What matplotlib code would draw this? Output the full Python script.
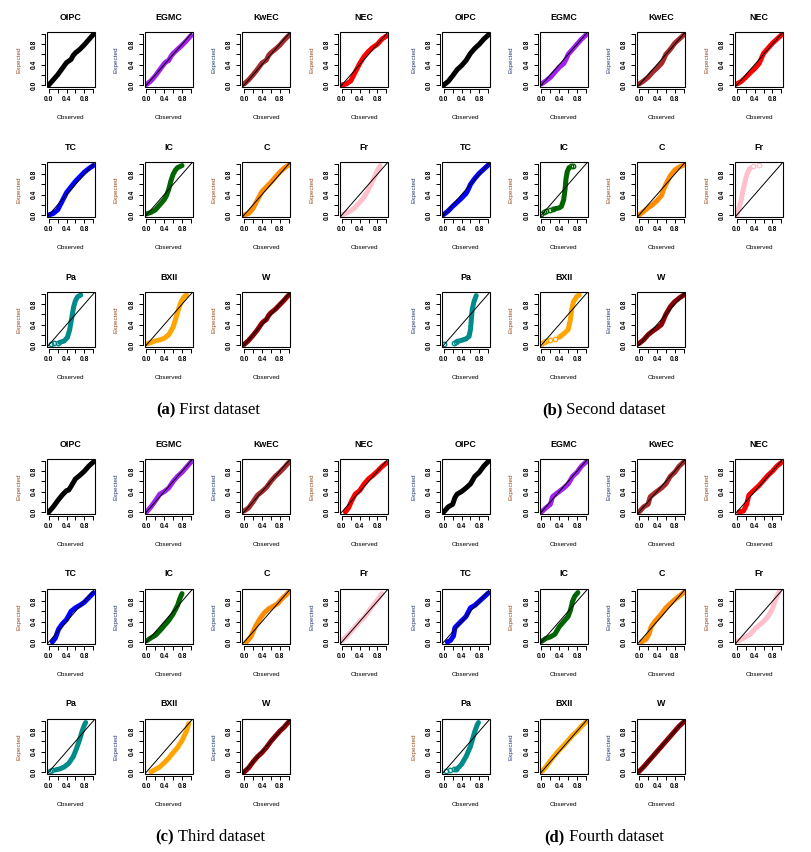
import matplotlib
matplotlib.use("Agg")
import matplotlib.pyplot as plt
from matplotlib.patches import Rectangle

# P-P plots of eleven fitted models on four datasets

models = ["OIPC", "EGMC", "KwEC", "NEC", "TC", "IC", "C", "Fr", "Pa", "BXII", "W"]
colors = ["black", "#a020f0", "#a52a2a", "red", "blue", "#006400", "#ff8c00",
          "#ffc0cb", "#008b8b", "#ffa500", "#8b0000"]

# (observed, expected) points, dense part of each cloud
first = {
    "OIPC": [(0, 0), (0.1, 0.1), (0.2, 0.2), (0.3, 0.32), (0.4, 0.44), (0.45, 0.47), (0.5, 0.5),
             (0.55, 0.58), (0.6, 0.63), (0.7, 0.7), (0.8, 0.79), (0.9, 0.89), (1, 0.99)],
    "EGMC": [(0, 0.01), (0.1, 0.08), (0.2, 0.18), (0.3, 0.3), (0.4, 0.42), (0.45, 0.46), (0.5, 0.48),
             (0.55, 0.56), (0.6, 0.62), (0.7, 0.7), (0.8, 0.78), (0.9, 0.87), (1, 0.97)],
    "KwEC": [(0, 0.02), (0.1, 0.1), (0.2, 0.2), (0.3, 0.31), (0.4, 0.43), (0.45, 0.46), (0.5, 0.49),
             (0.55, 0.58), (0.6, 0.63), (0.7, 0.7), (0.8, 0.78), (0.9, 0.88), (1, 0.97)],
    "NEC": [(0, 0), (0.1, 0.02), (0.2, 0.08), (0.3, 0.25), (0.4, 0.42), (0.5, 0.56), (0.6, 0.66),
            (0.7, 0.74), (0.8, 0.8), (0.9, 0.9), (1, 0.96)],
    "TC": [(0, 0), (0.1, 0.03), (0.2, 0.1), (0.3, 0.27), (0.4, 0.44), (0.5, 0.55), (0.6, 0.66),
           (0.7, 0.75), (0.8, 0.84), (0.9, 0.91), (1, 0.97)],
    "IC": [(0, 0.02), (0.1, 0.05), (0.2, 0.1), (0.3, 0.2), (0.4, 0.3), (0.45, 0.38), (0.5, 0.5),
           (0.55, 0.67), (0.6, 0.8), (0.65, 0.88), (0.7, 0.93), (0.8, 0.97)],
    "C": [(0, 0), (0.1, 0.03), (0.2, 0.13), (0.3, 0.3), (0.4, 0.46), (0.5, 0.55), (0.6, 0.64),
          (0.7, 0.74), (0.8, 0.84), (0.9, 0.92), (1, 0.98)],
    "Fr": [(0, 0), (0.1, 0.04), (0.2, 0.08), (0.3, 0.15), (0.4, 0.25), (0.5, 0.35), (0.6, 0.5),
           (0.7, 0.68), (0.8, 0.87), (0.86, 0.97)],
    "Pa": [(0.25, 0.05), (0.35, 0.08), (0.42, 0.15), (0.47, 0.3), (0.5, 0.45), (0.53, 0.6),
           (0.56, 0.75), (0.6, 0.87), (0.65, 0.95), (0.72, 0.98)],
    "BXII": [(0, 0.02), (0.1, 0.05), (0.2, 0.08), (0.3, 0.1), (0.4, 0.13), (0.5, 0.2), (0.6, 0.35),
             (0.67, 0.55), (0.72, 0.7), (0.78, 0.85), (0.85, 0.95), (0.9, 0.98)],
    "W": [(0, 0.01), (0.1, 0.09), (0.2, 0.19), (0.3, 0.3), (0.4, 0.43), (0.45, 0.47), (0.5, 0.5),
          (0.55, 0.58), (0.6, 0.63), (0.7, 0.7), (0.8, 0.79), (0.9, 0.88), (1, 0.98)],
}
second = {
    "OIPC": [(0, 0), (0.1, 0.07), (0.2, 0.18), (0.3, 0.3), (0.4, 0.38), (0.5, 0.48), (0.55, 0.55),
             (0.6, 0.62), (0.7, 0.72), (0.8, 0.8), (0.9, 0.9), (1, 0.98)],
    "EGMC": [(0, 0.02), (0.1, 0.08), (0.2, 0.15), (0.3, 0.25), (0.4, 0.35), (0.5, 0.42), (0.55, 0.5),
             (0.6, 0.6), (0.7, 0.7), (0.8, 0.8), (0.9, 0.9), (1, 0.98)],
    "KwEC": [(0, 0.02), (0.1, 0.08), (0.2, 0.15), (0.3, 0.25), (0.4, 0.33), (0.5, 0.42), (0.55, 0.5),
             (0.6, 0.6), (0.7, 0.7), (0.8, 0.82), (0.9, 0.9), (1, 0.98)],
    "NEC": [(0, 0.02), (0.1, 0.07), (0.2, 0.15), (0.3, 0.24), (0.4, 0.32), (0.5, 0.42), (0.55, 0.52),
            (0.6, 0.62), (0.7, 0.72), (0.8, 0.82), (0.9, 0.9), (1, 0.98)],
    "TC": [(0, 0.01), (0.1, 0.08), (0.2, 0.17), (0.3, 0.25), (0.4, 0.33), (0.5, 0.42), (0.55, 0.5),
           (0.6, 0.6), (0.7, 0.72), (0.8, 0.82), (0.9, 0.9), (1, 0.98)],
    "IC": [(0.3, 0.12), (0.4, 0.14), (0.45, 0.17), (0.5, 0.3), (0.53, 0.5), (0.55, 0.7),
           (0.58, 0.85), (0.62, 0.93)],
    "C": [(0, 0), (0.1, 0.07), (0.2, 0.14), (0.3, 0.2), (0.4, 0.28), (0.5, 0.38), (0.55, 0.5),
          (0.6, 0.6), (0.7, 0.77), (0.8, 0.88), (0.9, 0.94), (1, 0.98)],
    "Fr": [(0, 0), (0.05, 0.15), (0.1, 0.3), (0.13, 0.45), (0.17, 0.6), (0.2, 0.72), (0.25, 0.85),
           (0.3, 0.92)],
    "Pa": [(0.3, 0.07), (0.4, 0.09), (0.5, 0.12), (0.57, 0.17), (0.6, 0.3), (0.62, 0.5), (0.64, 0.7),
           (0.68, 0.85), (0.73, 0.97)],
    "BXII": [(0.4, 0.15), (0.5, 0.22), (0.6, 0.3), (0.65, 0.5), (0.68, 0.7), (0.72, 0.85),
             (0.8, 0.96), (0.85, 0.98)],
    "W": [(0, 0.03), (0.1, 0.1), (0.2, 0.2), (0.3, 0.27), (0.4, 0.33), (0.5, 0.4), (0.55, 0.5),
          (0.6, 0.6), (0.7, 0.75), (0.8, 0.85), (0.9, 0.92), (1, 0.98)],
}
third = {
    "OIPC": [(0, 0), (0.1, 0.1), (0.2, 0.22), (0.3, 0.33), (0.4, 0.42), (0.45, 0.43), (0.5, 0.5),
             (0.6, 0.65), (0.7, 0.72), (0.8, 0.8), (0.9, 0.9), (1, 0.98)],
    "EGMC": [(0, 0), (0.1, 0.1), (0.2, 0.22), (0.3, 0.35), (0.4, 0.4), (0.5, 0.47), (0.6, 0.6),
             (0.7, 0.7), (0.8, 0.78), (0.9, 0.88), (1, 0.98)],
    "KwEC": [(0, 0.02), (0.1, 0.08), (0.2, 0.2), (0.3, 0.33), (0.4, 0.4), (0.5, 0.48), (0.6, 0.6),
             (0.7, 0.7), (0.8, 0.78), (0.9, 0.87), (1, 0.97)],
    "NEC": [(0.08, 0), (0.15, 0.08), (0.22, 0.22), (0.3, 0.35), (0.4, 0.42), (0.5, 0.55),
            (0.6, 0.65), (0.7, 0.72), (0.8, 0.8), (0.9, 0.89), (1, 0.96)],
    "TC": [(0.08, 0), (0.15, 0.08), (0.22, 0.25), (0.3, 0.35), (0.4, 0.44), (0.5, 0.6),
           (0.6, 0.67), (0.7, 0.72), (0.8, 0.78), (0.9, 0.87), (1, 0.96)],
    "IC": [(0, 0.02), (0.1, 0.08), (0.2, 0.13), (0.3, 0.22), (0.4, 0.32), (0.5, 0.42), (0.6, 0.55),
           (0.7, 0.72), (0.75, 0.85), (0.8, 0.95)],
    "C": [(0.05, 0), (0.15, 0.1), (0.25, 0.3), (0.35, 0.45), (0.45, 0.57), (0.55, 0.65),
          (0.65, 0.7), (0.75, 0.75), (0.85, 0.85), (0.95, 0.93), (1, 0.98)],
    "Fr": [(0, 0.02), (0.1, 0.1), (0.2, 0.2), (0.3, 0.3), (0.4, 0.4), (0.5, 0.48), (0.6, 0.6),
           (0.7, 0.72), (0.8, 0.82), (0.9, 0.95)],
    "Pa": [(0.15, 0.04), (0.25, 0.06), (0.35, 0.1), (0.45, 0.17), (0.55, 0.3), (0.62, 0.45),
           (0.7, 0.65), (0.75, 0.8), (0.8, 0.92), (0.83, 0.97)],
    "BXII": [(0.1, 0), (0.2, 0.05), (0.3, 0.1), (0.4, 0.18), (0.5, 0.27), (0.6, 0.38), (0.7, 0.48),
             (0.8, 0.62), (0.9, 0.8), (0.95, 0.95)],
    "W": [(0, 0), (0.1, 0.08), (0.2, 0.2), (0.3, 0.3), (0.4, 0.38), (0.5, 0.48), (0.6, 0.6),
          (0.7, 0.7), (0.8, 0.8), (0.9, 0.88), (1, 0.98)],
}
fourth = {
    "OIPC": [(0, 0), (0.1, 0.1), (0.2, 0.15), (0.25, 0.28), (0.3, 0.35), (0.4, 0.4), (0.5, 0.47),
             (0.6, 0.55), (0.7, 0.7), (0.8, 0.78), (0.9, 0.9), (1, 0.99)],
    "EGMC": [(0, 0), (0.1, 0.08), (0.2, 0.15), (0.25, 0.3), (0.35, 0.37), (0.5, 0.47), (0.6, 0.55),
             (0.7, 0.7), (0.8, 0.78), (0.9, 0.9), (1, 0.98)],
    "KwEC": [(0, 0), (0.1, 0.1), (0.2, 0.15), (0.25, 0.3), (0.35, 0.37), (0.5, 0.47), (0.6, 0.55),
             (0.7, 0.7), (0.8, 0.78), (0.9, 0.9), (1, 0.98)],
    "NEC": [(0.05, 0), (0.15, 0.02), (0.22, 0.15), (0.27, 0.33), (0.35, 0.4), (0.5, 0.52),
            (0.6, 0.62), (0.7, 0.72), (0.8, 0.8), (0.9, 0.9), (1, 0.97)],
    "TC": [(0.08, 0), (0.15, 0.03), (0.22, 0.12), (0.25, 0.28), (0.35, 0.37), (0.5, 0.5),
           (0.6, 0.67), (0.7, 0.72), (0.8, 0.8), (0.9, 0.88), (1, 0.96)],
    "IC": [(0, 0.01), (0.1, 0.07), (0.2, 0.1), (0.3, 0.15), (0.4, 0.3), (0.5, 0.4), (0.6, 0.5),
           (0.65, 0.62), (0.7, 0.8), (0.75, 0.9), (0.82, 0.97)],
    "C": [(0.05, 0), (0.15, 0.05), (0.22, 0.15), (0.27, 0.3), (0.35, 0.4), (0.5, 0.55), (0.6, 0.67),
          (0.7, 0.75), (0.8, 0.83), (0.9, 0.9), (1, 0.97)],
    "Fr": [(0, 0.01), (0.1, 0.05), (0.2, 0.1), (0.3, 0.15), (0.4, 0.25), (0.5, 0.33), (0.6, 0.4),
           (0.7, 0.5), (0.8, 0.65), (0.85, 0.78), (0.9, 0.9), (0.95, 0.98)],
    "Pa": [(0.3, 0.06), (0.4, 0.15), (0.5, 0.3), (0.6, 0.5), (0.65, 0.65), (0.7, 0.8), (0.75, 0.92),
           (0.78, 0.97)],
    "BXII": [(0, 0), (0.1, 0.1), (0.2, 0.22), (0.3, 0.33), (0.4, 0.43), (0.5, 0.52), (0.6, 0.62),
             (0.7, 0.72), (0.8, 0.8), (0.9, 0.9), (1, 0.98)],
    "W": [(0, 0.01), (0.1, 0.1), (0.2, 0.2), (0.3, 0.3), (0.4, 0.4), (0.5, 0.5), (0.6, 0.6),
          (0.7, 0.7), (0.8, 0.8), (0.9, 0.9), (1, 0.98)],
}

# isolated open circles where the cloud thins out
first_sparse = {"Pa": [(0.05, 0.02), (0.12, 0.03), (0.2, 0.04)]}
second_sparse = {
    "IC": [(0, 0.01), (0.05, 0.05), (0.1, 0.07), (0.2, 0.1), (0.25, 0.11), (0.67, 0.96), (0.72, 0.97)],
    "Fr": [(0.37, 0.96), (0.5, 0.98)],
    "Pa": [(0.0, 0.02), (0.23, 0.04), (0.28, 0.06)],
    "BXII": [(0, 0.01), (0.05, 0.05), (0.1, 0.07), (0.2, 0.1), (0.3, 0.12)],
}
third_sparse = {"Pa": [(0.02, 0.02), (0.08, 0.03)]}
fourth_sparse = {"Pa": [(0.05, 0.02), (0.15, 0.03), (0.22, 0.05), (0.28, 0.05)]}

captions = [("(a)", " First dataset"), ("(b)", " Second dataset"),
            ("(c)", " Third dataset"), ("(d)", " Fourth dataset")]
caption_centre = [208, 604, 210, 604]

# colour fringe of the rasterised "Expected" labels: o = brownish, n = navy
label_tint = ["onnoooooooo", "nnnonooonon", "onnoonnnonn", "nonononoonn"]
tint = {"o": "#9a4a1a", "n": "#283a78"}

W_PX, H_PX = 812, 852
fig = plt.figure(figsize=(W_PX / 100, H_PX / 100), dpi=100)
sans = "Liberation Sans"
serif = "Liberation Serif"

blocks = [(0, 0), (395, 0), (0, 427), (395, 427)]
datasets = [first, second, third, fourth]
sparses = [first_sparse, second_sparse, third_sparse, fourth_sparse]

for b, (bx, by) in enumerate(blocks):
    for k, m in enumerate(models):
        r, c = divmod(k, 4)
        left = bx + 47 + 97.7 * c
        top = by + 32 + 130 * r
        ax = fig.add_axes([left / W_PX, 1 - (top + 55) / H_PX, 48 / W_PX, 55 / H_PX])
        pts = datasets[b][m]
        xs = [p[0] for p in pts]
        ys = [p[1] for p in pts]
        ax.plot(xs, ys, color=colors[k], lw=3.6, solid_capstyle="round",
                solid_joinstyle="round", zorder=2)
        if m in sparses[b]:
            sp = sparses[b][m]
            ax.plot([p[0] for p in sp], [p[1] for p in sp], "o", ms=3.2, mfc="none",
                    mec=colors[k], mew=1.0, zorder=2)
        ax.plot([-0.1, 1.1], [-0.1, 1.1], color="black", lw=0.7, zorder=3)
        ax.set_xlim(-0.04, 1.04)
        ax.set_ylim(-0.04, 1.04)
        for s in ["top", "right"]:
            ax.spines[s].set_visible(False)
        for s in ["bottom", "left"]:
            ax.spines[s].set_position(("outward", 1.5))
            ax.spines[s].set_bounds(0, 1)
            ax.spines[s].set_linewidth(0.7)
        ax.add_patch(Rectangle((0, 0), 1, 1, transform=ax.transAxes, fill=False,
                               lw=0.8, ec="black", clip_on=False, zorder=4))
        ticks = [0, 0.2, 0.4, 0.6, 0.8, 1.0]
        lab = ["0.0", "", "0.4", "", "0.8", ""]
        ax.set_xticks(ticks)
        ax.set_xticklabels(lab, fontsize=4.8, fontfamily=sans, fontweight="bold")
        ax.set_yticks(ticks)
        ax.set_yticklabels(lab, fontsize=4.8, fontfamily=sans, fontweight="bold",
                           rotation=90, va="center")
        ax.tick_params(length=2.6, width=0.7, pad=2.5)
        ax.set_title(m, fontsize=6.4, fontweight="bold", fontfamily=sans, pad=9)
        ax.set_xlabel("Observed", fontsize=4.6, fontfamily=sans, labelpad=8.5)
        ax.set_ylabel("Expected", fontsize=4.6, fontfamily=sans, labelpad=7,
                      color=tint[label_tint[b][k]])

# captions: bold tag then plain text, centred as one line under each block
renderer = fig.canvas.get_renderer()
for b, (bx, by) in enumerate(blocks):
    tag, rest = captions[b]
    cy = 1 - (by + 410) / H_PX
    t1 = fig.text(0, cy, tag, fontsize=12, fontweight="bold", fontfamily=serif, va="center")
    t2 = fig.text(0, cy, rest, fontsize=12, fontfamily=serif, va="center")
    w1 = t1.get_window_extent(renderer).width
    w2 = t2.get_window_extent(renderer).width
    x0 = caption_centre[b] - (w1 + w2) / 2
    t1.set_x(x0 / W_PX)
    t2.set_x((x0 + w1) / W_PX)

fig.savefig("out.png", dpi=100)
